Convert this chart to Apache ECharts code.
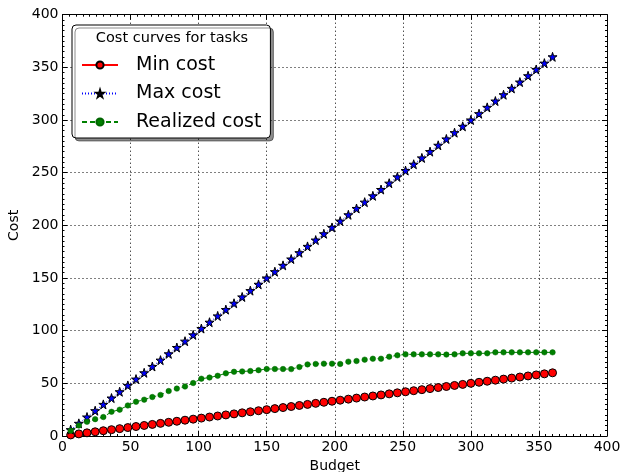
<!DOCTYPE html>
<html>
<head>
<meta charset="utf-8">
<script src="https://cdn.jsdelivr.net/npm/echarts@6/dist/echarts.min.js"></script>
<style>html,body{margin:0;padding:0;background:#fff}#c{width:633px;height:472px}</style>
</head>
<body>
<div id="c"></div>
<script>
var budget = [6,12,18,24,30,36,42,48,54,60,66,72,78,84,90,96,102,108,114,120,126,132,138,144,150,156,162,168,174,180,186,192,198,204,210,216,222,228,234,240,246,252,258,264,270,276,282,288,294,300,306,312,318,324,330,336,342,348,354,360];
var minCost = [1,2,3,4,5,6,7,8,9,10,11,12,13,14,15,16,17,18,19,20,21,22,23,24,25,26,27,28,29,30,31,32,33,34,35,36,37,38,39,40,41,42,43,44,45,46,47,48,49,50,51,52,53,54,55,56,57,58,59,60];
var maxCost = [6,12,18,24,30,36,42,48,54,60,66,72,78,84,90,96,102,108,114,120,126,132,138,144,150,156,162,168,174,180,186,192,198,204,210,216,222,228,234,240,246,252,258,264,270,276,282,288,294,300,306,312,318,324,330,336,342,348,354,360];
var realizedCost = [5,10,13.5,16,18,23,25,29,32.5,34.5,37,39,42.7,45,47,50.3,54.4,55.5,57.2,59.5,61,61.3,61.7,62.5,
  63.6,63.6,63.6,63.5,65.5,68,68.4,68.7,68.7,68.4,70.6,71.2,72.5,73.4,73.4,75.3,76.6,
  77.5,77.5,77.5,77.5,77.5,77.3,77.5,78.5,78.5,78.5,78.5,79.4,79.4,79.4,79.4,79.4,79.4,79.4,79.4];
var xTicks = {min: 0, max: 400, interval: 50};
var yTicks = {min: 0, max: 400, interval: 50};
var legendTitle = 'Cost curves for tasks';

function pairs(xs, ys){ return xs.map(function(x,i){ return [x, ys[i]]; }); }

var FONT = 'DejaVu Sans';
var STAR = 'path://M50,0 L61,35 L98,35 L68,57 L79,91 L50,70 L21,91 L32,57 L2,35 L39,35 Z';

function xAx(pos, main){
  return {
    type: 'value', position: pos, min: xTicks.min, max: xTicks.max, interval: xTicks.interval,
    name: main ? 'Budget' : '', nameLocation: 'middle', nameGap: 22,
    nameTextStyle: {fontFamily: FONT, fontSize: 14, color: '#000'},
    axisLine: {show: true, onZero: false, lineStyle: {color: '#000', width: 1}},
    axisTick: {show: true, inside: true, length: 5, lineStyle: {color: '#000'}},
    minorTick: {show: true, splitNumber: 10, length: 2, lineStyle: {color: '#000'}},
    axisLabel: {show: main, fontFamily: FONT, fontSize: 14, color: '#000', margin: 4},
    splitLine: {show: main, lineStyle: {color: '#000', type: [1, 3], width: 1}}
  };
}
function yAx(pos, main){
  return {
    type: 'value', position: pos, min: yTicks.min, max: yTicks.max, interval: yTicks.interval,
    name: main ? 'Cost' : '', nameLocation: 'middle', nameGap: 38, nameRotate: 90,
    nameTextStyle: {fontFamily: FONT, fontSize: 14, color: '#000'},
    axisLine: {show: true, onZero: false, lineStyle: {color: '#000', width: 1}},
    axisTick: {show: true, inside: true, length: 5, lineStyle: {color: '#000'}},
    minorTick: {show: true, splitNumber: 10, length: 2, lineStyle: {color: '#000'}},
    axisLabel: {show: main, fontFamily: FONT, fontSize: 14, color: '#000', margin: 4},
    splitLine: {show: main, lineStyle: {color: '#000', type: [1, 3], width: 1}}
  };
}

var chart = echarts.init(document.getElementById('c'), null, {renderer: 'canvas'});
chart.setOption({
  animation: false,
  backgroundColor: '#fff',
  grid: {left: 62.5, right: 26, top: 14.7, bottom: 36, containLabel: false, outerBoundsMode: 'none'},
  xAxis: [xAx('bottom', true), xAx('top', false)],
  yAxis: [yAx('left', true), yAx('right', false)],
  legend: {
    orient: 'vertical', left: 72, top: 25,
    itemWidth: 36, itemHeight: 9, itemGap: 9.5,
    padding: [30.5, 9, 6.5, 9],
    backgroundColor: '#fff', borderColor: '#000', borderWidth: 1, borderRadius: 4,
    shadowColor: 'rgba(0,0,0,0.45)', shadowOffsetX: 3, shadowOffsetY: 3, shadowBlur: 0,
    textStyle: {fontFamily: FONT, fontSize: 19, color: '#000', padding: [0, 0, 0, 13]},
    data: ['Min cost', 'Max cost', 'Realized cost']
  },
  graphic: [{
    type: 'text', x: 172, y: 38.5, z: 100,
    style: {text: legendTitle, font: '14.5px "DejaVu Sans"', fill: '#000', textAlign: 'center', textVerticalAlign: 'middle'}
  }],
  series: [
    {
      name: 'Min cost', type: 'line', xAxisIndex: 0, yAxisIndex: 0,
      data: pairs(budget, minCost),
      symbol: 'circle', symbolSize: 8, showAllSymbol: true,
      lineStyle: {color: '#ff0000', width: 1},
      itemStyle: {color: '#ff0000', borderColor: '#000', borderWidth: 1},
      z: 2
    },
    {
      name: 'Max cost', type: 'line', xAxisIndex: 0, yAxisIndex: 0,
      data: pairs(budget, maxCost),
      symbol: STAR, symbolSize: 9, showAllSymbol: true,
      lineStyle: {color: '#0000ff', width: 1, type: [1, 2]},
      itemStyle: {color: '#0000ff', borderColor: '#000', borderWidth: 1},
      z: 3
    },
    {
      name: 'Realized cost', type: 'line', xAxisIndex: 0, yAxisIndex: 0,
      data: pairs(budget, realizedCost),
      symbol: 'circle', symbolSize: 5.5, showAllSymbol: true,
      lineStyle: {color: '#008000', width: 1, type: [5, 3]},
      itemStyle: {color: '#008000', borderColor: '#006400', borderWidth: 0.5},
      z: 4
    }
  ]
});
</script>
</body>
</html>
